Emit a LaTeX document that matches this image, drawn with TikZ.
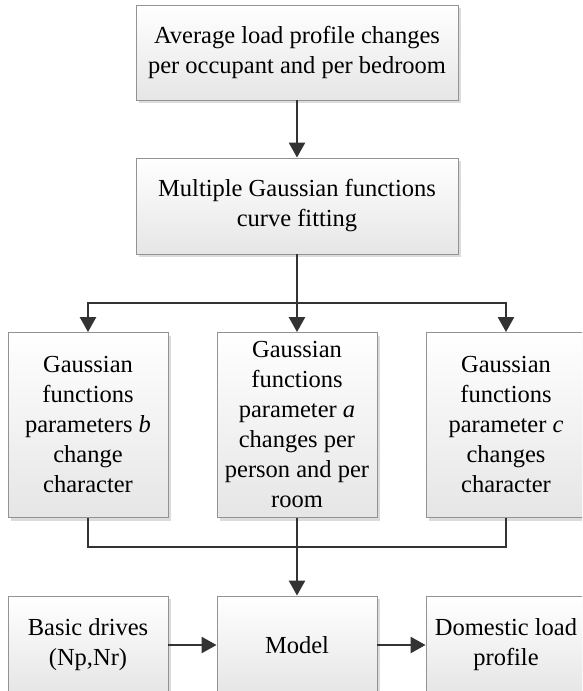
\documentclass[tikz,border=0pt]{standalone}
\usepackage{fontspec}
\setmainfont{Liberation Serif}
\usetikzlibrary{arrows,arrows.meta,shadows,positioning}

\tikzset{
	block/.style={draw=gray!85, line width=0.9pt, top color=white, bottom color=gray!20,
		drop shadow={shadow xshift=3pt, shadow yshift=-3pt, fill=black!30, opacity=0.45},
		minimum width=160pt, align=center, inner sep=0pt, font=\fontsize{24.5}{30}\selectfont},
	line/.style={draw=black!80, line width=2.6pt},
	arr/.style={line, ->, >={Triangle[length=15pt,width=16pt]}},
}

\begin{document}
\begin{tikzpicture}[x=1pt,y=-1pt]
		\useasboundingbox (0,0) rectangle (582,691);
		\clip (0,0) rectangle (582,691);
		
		% top
		\node[block, minimum width=322pt, minimum height=95pt] (avg) at (297,52.5) {Average load profile changes\\per occupant and per bedroom};
		\node[block, minimum width=322pt, minimum height=96pt] (fit) at (297,206) {Multiple Gaussian functions\\curve fitting};
		
		% parameters
		\node[block, minimum height=185pt] (parb) at (88,425) {Gaussian\\functions\\parameters \textit{b}\\change\\character};
		\node[block, minimum height=185pt] (para) at (297,425) {Gaussian\\functions\\parameter \textit{a}\\changes per\\person and per\\room};
		\node[block, minimum height=185pt] (parc) at (506,425) {Gaussian\\functions\\parameter \textit{c}\\changes\\character};
		
		% bottom
		\node[block, minimum height=98pt] (drives) at (88,645) {Basic drives\\(Np,Nr)};
		\node[block, minimum height=98pt] (model) at (297,645) {Model};
		\node[block, minimum height=98pt] (profile) at (506,645) {Domestic load\\profile};
		
		\coordinate (split) at (297,303);
		\coordinate (merge) at (297,547);
		
		\draw[arr] (avg) -- (fit);
		\draw[line] (fit) -- (split);
		\draw[arr] (split) -| (parb);
		\draw[arr] (split) -- (para);
		\draw[arr] (split) -| (parc);
		
		\draw[line] (parb) |- (merge);
		\draw[line] (parc) |- (merge);
		\draw[line] (para) -- (merge);
		\draw[arr] (merge) -- (model);
		
		\draw[arr] (drives) -- (model);
		\draw[arr] (model) -- (profile);
	\end{tikzpicture}
\end{document}
